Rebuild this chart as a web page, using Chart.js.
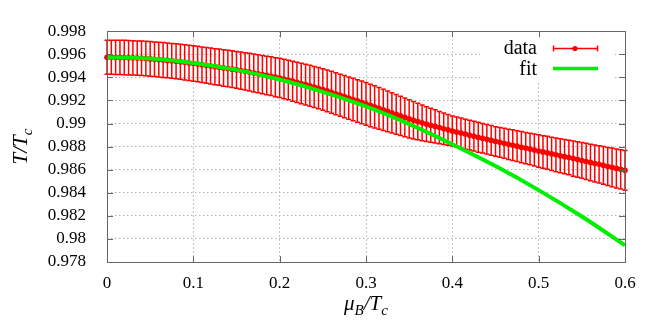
<!DOCTYPE html>
<html>
<head>
<meta charset="utf-8">
<script src="https://cdn.jsdelivr.net/npm/chart.js@4"></script>
<style>
  html, body { margin: 0; padding: 0; background: #fff; }
  #wrap { width: 664px; height: 326px; }
</style>
</head>
<body>
<div id="wrap"><canvas id="chart" width="664" height="326"></canvas></div>
<script>
// mu_B/T_c grid of the lattice data (step 0.005, 0 .. 0.6)
const muStep = 0.005;
const muData = Array.from({ length: 121 }, (_, i) => +(i * muStep).toFixed(3));

// T/T_c central values
const tcData = [
  0.99574, 0.99574, 0.99573, 0.99573, 0.99572, 0.99570, 0.99569, 0.99567, 0.99565, 0.99563,
  0.99560, 0.99557, 0.99554, 0.99550, 0.99547, 0.99543, 0.99539, 0.99535, 0.99530, 0.99525,
  0.99520, 0.99515, 0.99510, 0.99504, 0.99499, 0.99493, 0.99488, 0.99482, 0.99477, 0.99471,
  0.99465, 0.99459, 0.99452, 0.99445, 0.99438, 0.99431, 0.99424, 0.99417, 0.99410, 0.99402,
  0.99395, 0.99386, 0.99377, 0.99367, 0.99357, 0.99347, 0.99337, 0.99327, 0.99317, 0.99306,
  0.99295, 0.99283, 0.99271, 0.99258, 0.99246, 0.99233, 0.99221, 0.99208, 0.99196, 0.99183,
  0.99170, 0.99157, 0.99144, 0.99131, 0.99118, 0.99105, 0.99092, 0.99079, 0.99066, 0.99053,
  0.99040, 0.99028, 0.99017, 0.99006, 0.98995, 0.98985, 0.98975, 0.98965, 0.98955, 0.98945,
  0.98935, 0.98926, 0.98917, 0.98908, 0.98899, 0.98890, 0.98881, 0.98872, 0.98863, 0.98854,
  0.98845, 0.98837, 0.98829, 0.98820, 0.98812, 0.98804, 0.98795, 0.98787, 0.98779, 0.98770,
  0.98762, 0.98754, 0.98746, 0.98737, 0.98729, 0.98721, 0.98713, 0.98705, 0.98696, 0.98688,
  0.98680, 0.98671, 0.98663, 0.98654, 0.98646, 0.98637, 0.98628, 0.98620, 0.98611, 0.98603,
  0.98594
];

// symmetric error (half bar height)
const tcErr = [
  0.00148, 0.00148, 0.00148, 0.00148, 0.00149, 0.00149, 0.00149, 0.00149, 0.00149, 0.00150,
  0.00150, 0.00150, 0.00150, 0.00151, 0.00151, 0.00151, 0.00152, 0.00152, 0.00152, 0.00153,
  0.00153, 0.00154, 0.00154, 0.00155, 0.00156, 0.00156, 0.00157, 0.00158, 0.00158, 0.00159,
  0.00160, 0.00161, 0.00162, 0.00163, 0.00164, 0.00165, 0.00166, 0.00167, 0.00168, 0.00169,
  0.00170, 0.00171, 0.00172, 0.00173, 0.00174, 0.00175, 0.00176, 0.00177, 0.00178, 0.00179,
  0.00180, 0.00181, 0.00181, 0.00182, 0.00182, 0.00183, 0.00183, 0.00184, 0.00184, 0.00185,
  0.00185, 0.00184, 0.00183, 0.00181, 0.00179, 0.00177, 0.00175, 0.00172, 0.00170, 0.00168,
  0.00165, 0.00162, 0.00158, 0.00155, 0.00151, 0.00148, 0.00144, 0.00140, 0.00137, 0.00133,
  0.00130, 0.00130, 0.00130, 0.00129, 0.00129, 0.00129, 0.00129, 0.00128, 0.00128, 0.00128,
  0.00128, 0.00129, 0.00130, 0.00131, 0.00133, 0.00134, 0.00135, 0.00136, 0.00137, 0.00139,
  0.00140, 0.00141, 0.00143, 0.00144, 0.00146, 0.00147, 0.00149, 0.00150, 0.00152, 0.00153,
  0.00155, 0.00157, 0.00158, 0.00160, 0.00162, 0.00163, 0.00165, 0.00167, 0.00169, 0.00170,
  0.00172
];

// fit curve
const muFit = [0, 0.05, 0.1, 0.15, 0.2, 0.25, 0.3, 0.35, 0.4, 0.45, 0.5, 0.55, 0.6];
const tcFit = [0.99575, 0.99563, 0.99525, 0.99465, 0.99381, 0.99275, 0.99148, 0.98995, 0.98821, 0.98631, 0.98423, 0.98194, 0.97944];

const xTicks = [0, 0.1, 0.2, 0.3, 0.4, 0.5, 0.6];
const yTicks = [0.978, 0.98, 0.982, 0.984, 0.986, 0.988, 0.99, 0.992, 0.994, 0.996, 0.998];

const RED = '#ff0000';
const GREEN = '#00ee00';
const FRAME = '#666666';
const SERIF = '"Liberation Serif", "Times New Roman", serif';

// draws a list of [text, isSub] pieces starting at x, baseline y
function drawRich(ctx, parts, x, y, size) {
  let cx = x;
  parts.forEach(([txt, sub]) => {
    ctx.font = `italic ${sub ? Math.round(size * 0.7) : size}px ${SERIF}`;
    ctx.fillText(txt, cx, sub ? y + size * 0.22 : y);
    cx += ctx.measureText(txt).width;
  });
}
function richWidth(ctx, parts, size) {
  let w = 0;
  parts.forEach(([txt, sub]) => {
    ctx.font = `italic ${sub ? Math.round(size * 0.7) : size}px ${SERIF}`;
    w += ctx.measureText(txt).width;
  });
  return w;
}

const errorBars = {
  id: 'errorBars',
  beforeDatasetsDraw(chart) {
    const { ctx, scales: { x, y }, chartArea: a } = chart;
    // key box hides the grid behind the legend
    ctx.save();
    ctx.fillStyle = '#ffffff';
    ctx.fillRect(480, 31, a.right - 12 - 480, 50);

    ctx.strokeStyle = RED;
    ctx.lineWidth = 1.5;
    const cap = 2.5;
    muData.forEach((m, i) => {
      const px = x.getPixelForValue(m);
      const top = y.getPixelForValue(tcData[i] + tcErr[i]);
      const bot = y.getPixelForValue(tcData[i] - tcErr[i]);
      ctx.beginPath();
      ctx.moveTo(px, top); ctx.lineTo(px, bot);
      ctx.moveTo(px - cap, top); ctx.lineTo(px + cap, top);
      ctx.moveTo(px - cap, bot); ctx.lineTo(px + cap, bot);
      ctx.stroke();
    });
    ctx.restore();
  }
};

const frameAndText = {
  id: 'frameAndText',
  afterDraw(chart) {
    const { ctx, chartArea: a, scales: { x, y } } = chart;
    ctx.save();
    // border
    ctx.strokeStyle = FRAME;
    ctx.lineWidth = 1;
    ctx.strokeRect(Math.round(a.left) + 0.5, Math.round(a.top) + 0.5,
      Math.round(a.right - a.left), Math.round(a.bottom - a.top));
    // inward ticks, mirrored
    const tl = 6;
    ctx.beginPath();
    xTicks.forEach(v => {
      const px = Math.round(x.getPixelForValue(v)) + 0.5;
      ctx.moveTo(px, a.bottom); ctx.lineTo(px, a.bottom - tl);
      ctx.moveTo(px, a.top); ctx.lineTo(px, a.top + tl);
    });
    yTicks.forEach(v => {
      const py = Math.round(y.getPixelForValue(v)) + 0.5;
      ctx.moveTo(a.left, py); ctx.lineTo(a.left + tl, py);
      ctx.moveTo(a.right, py); ctx.lineTo(a.right - tl, py);
    });
    ctx.stroke();

    ctx.fillStyle = '#000';
    ctx.textBaseline = 'alphabetic';
    ctx.textAlign = 'left';
    // x title: mu_B / T_c
    const xt = [['\u03BC', false], ['B', true], ['/T', false], ['c', true]];
    const xw = richWidth(ctx, xt, 21);
    drawRich(ctx, xt, (a.left + a.right) / 2 - xw / 2, 310, 21);
    // y title: T / T_c, rotated
    const yt = [['T/T', false], ['c', true]];
    const yw = richWidth(ctx, yt, 21);
    ctx.save();
    ctx.translate(27, (a.top + a.bottom) / 2);
    ctx.rotate(-Math.PI / 2);
    drawRich(ctx, yt, -yw / 2, 0, 21);
    ctx.restore();

    // legend
    ctx.font = `20px ${SERIF}`;
    ctx.textAlign = 'right';
    ctx.fillText('data', 537, 54);
    ctx.fillText('fit', 537, 75);
    ctx.strokeStyle = RED;
    ctx.lineWidth = 1.5;
    ctx.beginPath();
    ctx.moveTo(553, 48.5); ctx.lineTo(598, 48.5);
    ctx.moveTo(553.5, 45.5); ctx.lineTo(553.5, 51.5);
    ctx.moveTo(597.5, 45.5); ctx.lineTo(597.5, 51.5);
    ctx.stroke();
    ctx.fillStyle = RED;
    ctx.beginPath();
    ctx.arc(575, 48.5, 2.6, 0, Math.PI * 2);
    ctx.fill();
    ctx.strokeStyle = GREEN;
    ctx.lineWidth = 3.5;
    ctx.beginPath();
    ctx.moveTo(553, 68.5); ctx.lineTo(598, 68.5);
    ctx.stroke();
    ctx.restore();
  }
};

new Chart(document.getElementById('chart'), {
  type: 'scatter',
  data: {
    datasets: [
      {
        label: 'fit',
        data: muFit.map((m, i) => ({ x: m, y: tcFit[i] })),
        showLine: true,
        borderColor: GREEN,
        borderWidth: 4,
        pointRadius: 0,
        tension: 0.4,
        order: 0,
        clip: false
      },
      {
        label: 'data',
        data: muData.map((m, i) => ({ x: m, y: tcData[i] })),
        showLine: false,
        pointRadius: 2.8,
        pointBackgroundColor: RED,
        pointBorderWidth: 0,
        order: 1,
        clip: false
      }
    ]
  },
  options: {
    responsive: false,
    animation: false,
    layout: { padding: { left: 0, right: 39, top: 26, bottom: 0 } },
    plugins: { legend: { display: false }, tooltip: { enabled: false } },
    scales: {
      x: {
        type: 'linear',
        min: 0,
        max: 0.6,
        afterBuildTicks: s => { s.ticks = xTicks.map(v => ({ value: v })); },
        afterFit: s => { s.height = 64; },
        grid: { color: '#b4b4b4', drawTicks: false, lineWidth: 1 },
        border: { display: false, dash: [1.5, 2.5] },
        ticks: {
          padding: 11,
          autoSkip: false,
          color: '#000',
          font: { family: SERIF, size: 17 },
          maxRotation: 0,
          callback: v => String(+v.toFixed(2))
        }
      },
      y: {
        type: 'linear',
        min: 0.978,
        max: 0.998,
        afterBuildTicks: s => { s.ticks = yTicks.map(v => ({ value: v })); },
        afterFit: s => { s.width = 107; },
        grid: { color: '#b4b4b4', drawTicks: false, lineWidth: 1 },
        border: { display: false, dash: [1.5, 2.5] },
        ticks: {
          padding: 21,
          autoSkip: false,
          color: '#000',
          font: { family: SERIF, size: 17 },
          callback: v => String(+v.toFixed(3))
        }
      }
    }
  },
  plugins: [errorBars, frameAndText]
});
</script>
</body>
</html>
